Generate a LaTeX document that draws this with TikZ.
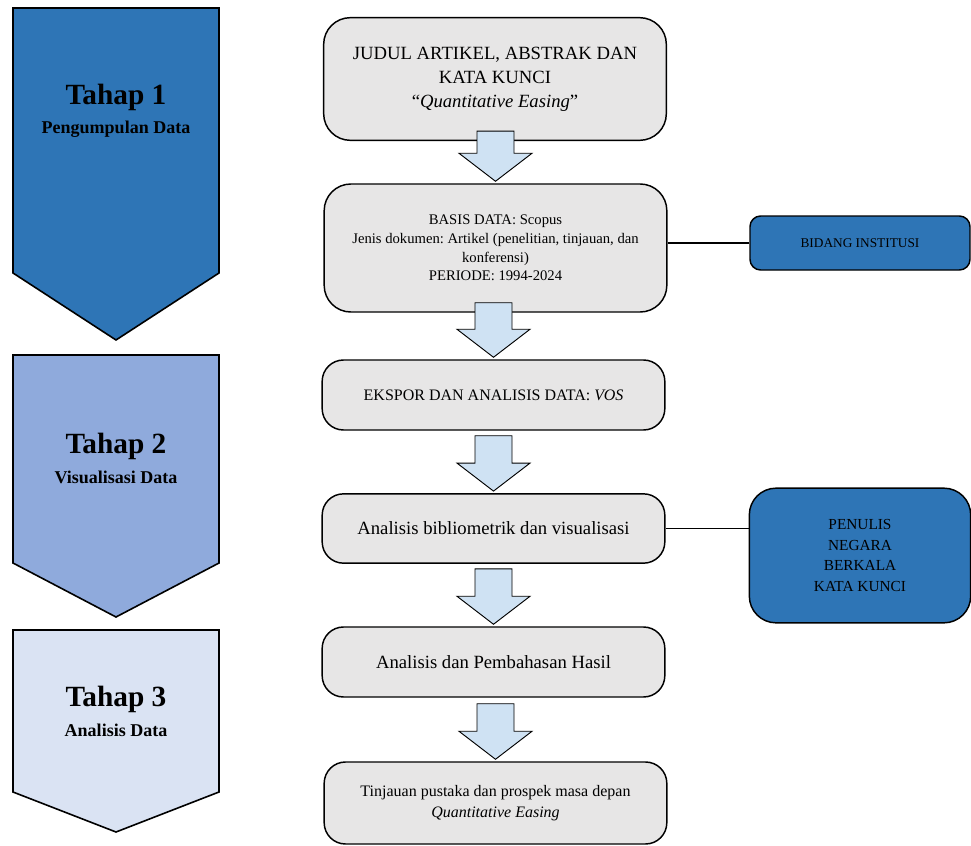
\documentclass[tikz,border=0pt]{standalone}
\usepackage{fontspec}
\setmainfont{Liberation Serif}
\usetikzlibrary{calc}
\frenchspacing
\definecolor{stageone}{HTML}{2E75B6}
\definecolor{stagetwo}{HTML}{8FAADC}
\definecolor{stagethree}{HTML}{DAE3F3}
\definecolor{boxgray}{HTML}{E7E6E6}
\definecolor{arrowblue}{HTML}{CFE2F3}

\newcommand{\flowarrow}[3]{%
	\filldraw[flowarr] ($(#2.north |- #1.south)+(-18.5,#3)$) -- ($(#2.north |- #1.south)+(18.5,#3)$)
	-- ($(#2.north)+(18.5,-30)$) -- ($(#2.north)+(36.5,-30)$) -- ($(#2.north)+(0,-2)$)
	-- ($(#2.north)+(-36.5,-30)$) -- ($(#2.north)+(-18.5,-30)$) -- cycle;}

\begin{document}
\begin{tikzpicture}[x=0.75pt,y=-0.75pt,
	chevron/.style={draw=black,line width=1.2pt,line join=miter},
	stagetitle/.style={font=\fontsize{22}{26}\selectfont\bfseries},
	stagesub/.style={font=\fontsize{13.5}{16}\selectfont\bfseries},
	mainbox/.style={draw=black,line width=1.1pt,fill=boxgray,
		rounded corners=16pt,align=center,minimum width=257pt,inner sep=4pt},
	sidebox/.style={draw=black,line width=1.1pt,fill=stageone,align=center,
		minimum width=165pt,inner sep=4pt},
	flowarr/.style={draw=black,line width=0.7pt,fill=arrowblue,line join=miter}]
	\useasboundingbox (0,0) rectangle (971,846);
	
	\draw[chevron,fill=stageone] (13,8) -- (219,8) -- (219,273) -- (116,340) -- (13,273) -- cycle;
	\node[stagetitle] (tahap1) at (116,97) {Tahap 1};
	\node[stagesub] (sub1) at (116,129) {Pengumpulan Data};
	\draw[chevron,fill=stagetwo] (13,355) -- (219,355) -- (219,563) -- (116,617) -- (13,563) -- cycle;
	\node[stagetitle] (tahap2) at (116,446) {Tahap 2};
	\node[stagesub] (sub2) at (116,477) {Visualisasi Data};
	\draw[chevron,fill=stagethree] (13,630) -- (219,630) -- (219,792) -- (116,832) -- (13,792) -- cycle;
	\node[stagetitle] (tahap3) at (116,699) {Tahap 3};
	\node[stagesub] (sub3) at (116,730) {Analisis Data};
	
	\node[mainbox,rounded corners=20pt,minimum height=92pt,
	font=\fontsize{14}{18}\selectfont] (judul) at (495,79)
	{JUDUL ARTIKEL, ABSTRAK DAN\\KATA KUNCI\\“\textit{Quantitative Easing}”};
	\node[mainbox,rounded corners=20pt,minimum height=96pt,
	font=\fontsize{11}{14}\selectfont] (basis) at (495.5,248)
	{BASIS DATA: Scopus\\Jenis dokumen: Artikel (penelitian, tinjauan, dan\\konferensi)\\PERIODE: 1994-2024};
	\node[mainbox,minimum height=52.5pt,
	font=\fontsize{12}{15}\selectfont] (ekspor) at (493.5,395)
	{EKSPOR DAN ANALISIS DATA: \textit{VOS}};
	\node[mainbox,minimum height=52pt,
	font=\fontsize{14}{18}\selectfont] (biblio) at (493.5,528.5)
	{Analisis bibliometrik dan visualisasi};
	\node[mainbox,minimum height=52.5pt,
	font=\fontsize{14}{18}\selectfont] (bahas) at (493.5,662)
	{Analisis dan Pembahasan Hasil};
	\node[mainbox,minimum height=61.5pt,
	font=\fontsize{12}{16}\selectfont] (tinjauan) at (495.5,803)
	{Tinjauan pustaka dan prospek masa depan\\\textit{Quantitative Easing}};
	
	\node[sidebox,rounded corners=8pt,minimum height=40.5pt,
	font=\fontsize{10}{12}\selectfont] (bidang) at (860,243) {BIDANG INSTITUSI};
	\node[sidebox,rounded corners=20pt,minimum width=166pt,minimum height=101pt,
	font=\fontsize{11.5}{15.4}\selectfont] (penulis) at (860,555.5)
	{PENULIS\\NEGARA\\BERKALA\\KATA KUNCI};
	\draw[line width=0.9pt] (bidang.west) -- (bidang.west -| basis.east);
	\draw[line width=0.9pt] (biblio.east) -- (biblio.east -| penulis.west);
	
	\flowarrow{judul}{basis}{-10}
	\flowarrow{basis}{ekspor}{-10}
	\flowarrow{ekspor}{biblio}{5}
	\flowarrow{biblio}{bahas}{5}
	\flowarrow{bahas}{tinjauan}{6}
\end{tikzpicture}
\end{document}
